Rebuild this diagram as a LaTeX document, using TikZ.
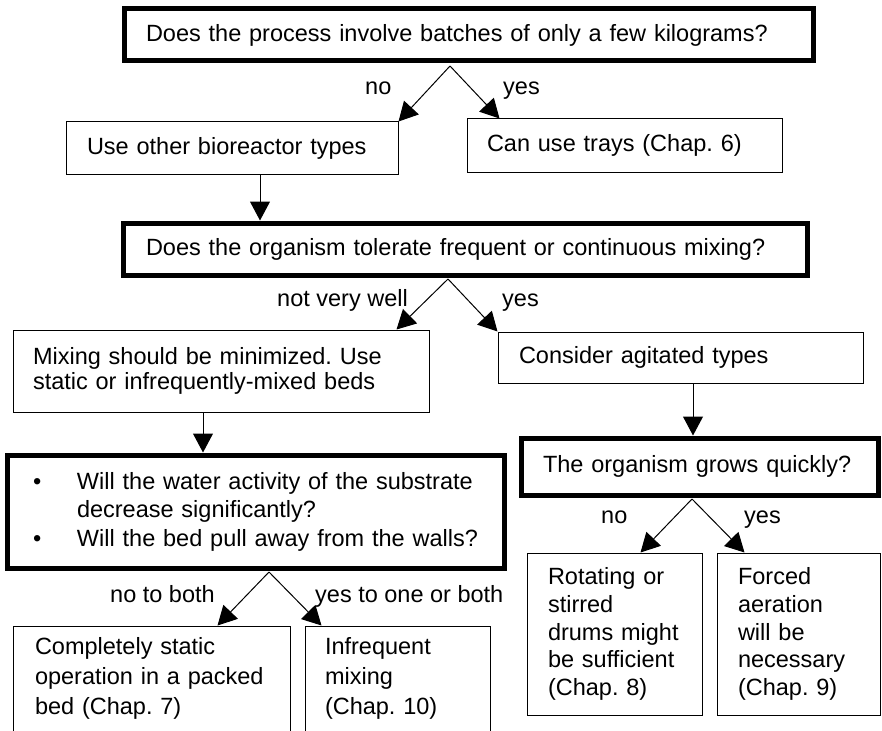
\documentclass[tikz,border=0pt]{standalone}
\usepackage{fontspec}
\setmainfont{Liberation Sans}
\usetikzlibrary{arrows.meta}
\frenchspacing

\begin{document}
\begin{tikzpicture}[x=1pt, y=-1pt,
    box/.style={draw, line width=1pt, align=left, inner xsep=21pt, inner ysep=0pt,
        font=\fontsize{23.5}{25}\selectfont},
    thickbox/.style={box, line width=5pt},
    arr/.style={-{Triangle[length=19pt,width=20pt]}, line width=1pt},
    lbl/.style={inner sep=0pt, anchor=base west, font=\fontsize{23.5}{25}\selectfont}]
\useasboundingbox (0,0) rectangle (882,730);
\clip (0,0) rectangle (882,730);

% questions
\node[thickbox, inner xsep=22pt, text width=645pt, minimum height=52pt] (batch) at (468.5,35)
    {Does the process involve batches of only a few kilograms?};
\node[thickbox, inner xsep=23pt, text width=638pt, minimum height=52pt] (mixing) at (465,249)
    {Does the organism tolerate frequent or continuous mixing?};
\node[thickbox, inner xsep=26pt, text width=445pt, minimum height=113pt,
    font=\fontsize{23.5}{28.5}\selectfont] (bed) at (255.5,511.5)
    {\makebox[44pt][l]{\textbullet}Will the water activity of the substrate\\
     \hspace*{44pt}decrease significantly?\\
     \makebox[44pt][l]{\textbullet}Will the bed pull away from the walls?};
\node[thickbox, inner xsep=22pt, text width=313pt, minimum height=57pt] (grows) at (699.5,466.5)
    {The organism grows quickly?};

% answers
\node[box, text width=290pt, minimum height=52pt] (other) at (232,148) {Use other bioreactor types};
\node[box, inner xsep=20pt, text width=275pt, minimum height=53pt] (trays) at (624.5,145.5) {Can use trays (Chap. 6)};
\node[box, inner xsep=20pt, text width=376pt, minimum height=82pt] (minim) at (221,371)
    {Mixing should be minimized. Use\\ static or infrequently-mixed beds};
\node[box, text width=323pt, minimum height=51pt] (agit) at (680.5,357.5) {Consider agitated types};
\node[box, text width=133pt, minimum height=162pt, font=\fontsize{23.5}{27.7}\selectfont] (drums) at (614.5,634)
    {Rotating or\\ stirred\\ drums might\\ be sufficient\\ (Chap. 8)};
\node[box, text width=121pt, minimum height=162pt, font=\fontsize{23.5}{27.7}\selectfont] (forced) at (798.5,634)
    {Forced\\ aeration\\ will be\\ necessary\\ (Chap. 9)};
\node[box, inner xsep=22pt, text width=233pt, minimum height=105pt, font=\fontsize{23.5}{30}\selectfont] (static) at (151.5,678.5)
    {Completely static\\ operation in a packed\\ bed (Chap. 7)};
\node[box, inner xsep=20pt, text width=145pt, minimum height=105pt, font=\fontsize{23.5}{30}\selectfont] (infreq) at (397.5,678.5)
    {Infrequent\\ mixing\\ (Chap. 10)};

% branches
\coordinate (s1) at (450,66);
\coordinate (s2) at (448,279);
\coordinate (s3) at (692,499);
\coordinate (s4) at (269,572);

\draw[arr] (s1) -- (other.north east);
\draw[arr] (s1) -- ([xshift=33pt]trays.north west);
\node[lbl] (no1) at (365,95) {no};
\node[lbl] (yes1) at (503,95) {yes};

\draw[arr] ([xshift=28pt]other.south) -- ([xshift=28pt]other.south |- mixing.north);

\draw[arr] (s2) -- ([xshift=384pt]minim.north west);
\draw[arr] (s2) -- (agit.north west);
\node[lbl] (no2) at (277,306) {not very well};
\node[lbl] (yes2) at (502,306) {yes};

\draw[arr] ([xshift=-18pt]minim.south) -- ([xshift=-18pt]minim.south |- bed.north);
\draw[arr] ([xshift=12.5pt]agit.south) -- ([xshift=12.5pt]agit.south |- grows.north);

\draw[arr] (s3) -- ([xshift=114pt]drums.north west);
\draw[arr] (s3) -- ([xshift=28pt]forced.north west);
\node[lbl] (no3) at (601,523) {no};
\node[lbl] (yes3) at (744,523) {yes};

\draw[arr] (s4) -- ([xshift=205pt]static.north west);
\draw[arr] (s4) -- ([xshift=17pt]infreq.north west);
\node[lbl] (no4) at (110,602) {no to both};
\node[lbl] (yes4) at (315,602) {yes to one or both};
\end{tikzpicture}
\end{document}
